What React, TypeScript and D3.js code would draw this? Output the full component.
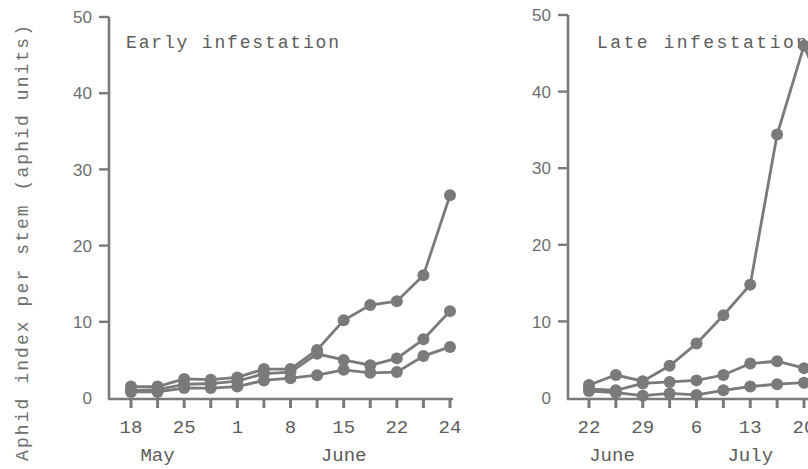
import React from "react";
import * as d3 from "d3";

// Sampling dates, in days from the first sample of each experiment
const earlyDays = [0, 3.5, 7, 10.5, 14, 17.5, 21, 24.5, 28, 31.5, 35, 38.5, 42];
const lateDays = [0, 3.5, 7, 10.5, 14, 17.5, 21, 24.5, 28, 31.5];

// Aphid index per stem, three treatments per infestation
const earlyHigh = [1.5, 1.5, 2.5, 2.4, 2.7, 3.8, 3.8, 6.3, 10.2, 12.2, 12.7, 16.1, 26.6];
const earlyMid = [1.0, 1.1, 1.8, 1.9, 2.2, 3.2, 3.4, 5.8, 5.0, 4.3, 5.2, 7.7, 11.4];
const earlyLow = [0.8, 0.8, 1.3, 1.3, 1.5, 2.3, 2.6, 3.0, 3.7, 3.3, 3.4, 5.5, 6.7];

const lateHigh = [1.7, 3.0, 2.2, 4.2, 7.1, 10.8, 14.8, 34.4, 46.0, 37.5];
const lateMid = [1.2, 1.0, 1.9, 2.1, 2.3, 3.0, 4.5, 4.8, 3.9, 3.6];
const lateLow = [0.9, 0.7, 0.3, 0.6, 0.4, 1.0, 1.5, 1.8, 2.0, 2.1];

// Axis labels
const yTicks = [0, 10, 20, 30, 40, 50];
const earlyDateTicks = [0, 7, 14, 21, 28, 35, 42];
const earlyDateLabels = ["18", "25", "1", "8", "15", "22", "24"];
const lateDateTicks = [0, 7, 14, 21, 28];
const lateDateLabels = ["22", "29", "6", "13", "20"];
const earlyMonths = [{ day: 3.5, name: "May" }, { day: 28, name: "June" }];
const lateMonths = [{ day: 3, name: "June" }, { day: 21, name: "July" }];

const INK = "#7a7a7a";
const TEXT = "#5c5c5c";
const LIGHT = "#6e6e6e";
const MONO = "'Liberation Mono', 'DejaVu Sans Mono', monospace";
const SANS = "'Liberation Sans', Arial, sans-serif";

type PanelProps = {
  title: string;
  days: number[];
  series: number[][];
  dayDomain: [number, number];
  xRange: [number, number];
  axisX: number;
  axisEnd: number;
  yTop: number;
  minorTicks: number[];
  dateTicks: number[];
  dateLabels: string[];
  months: { day: number; name: string }[];
  titleX: number;
  titleLen: number;
};

function Panel(p: PanelProps) {
  const x = d3.scaleLinear().domain(p.dayDomain).range(p.xRange);
  const y = d3.scaleLinear().domain([0, 50]).range([398, p.yTop]);
  const line = d3
    .line<number>()
    .x((_, i) => x(p.days[i]))
    .y((v) => y(v));
  const base = y(0) + 1;
  return (
    <g>
      {/* axes */}
      <line x1={p.axisX} x2={p.axisX} y1={y(50)} y2={base} stroke={INK} strokeWidth={2.6} />
      <line x1={p.axisX - 1} x2={p.axisEnd} y1={base} y2={base} stroke={INK} strokeWidth={2.6} />
      {yTicks.map((t) => (
        <g key={t}>
          {t > 0 && (
            <line x1={p.axisX - 10} x2={p.axisX} y1={y(t)} y2={y(t)} stroke={INK} strokeWidth={2.4} />
          )}
          <text
            x={p.axisX - 17}
            y={y(t)}
            dy="0.36em"
            textAnchor="end"
            fontFamily={SANS}
            fontSize={17}
            fill={LIGHT}
          >
            {t}
          </text>
        </g>
      ))}
      {p.minorTicks.map((d) => (
        <line key={d} x1={x(d)} x2={x(d)} y1={base} y2={base + 9} stroke={INK} strokeWidth={3} />
      ))}
      {p.dateTicks.map((d, i) => (
        <text
          key={d}
          x={x(d)}
          y={433}
          textAnchor="middle"
          fontFamily={MONO}
          fontSize={19}
          fill={TEXT}
        >
          {p.dateLabels[i]}
        </text>
      ))}
      {p.months.map((m) => (
        <text
          key={m.name}
          x={x(m.day)}
          y={461}
          textAnchor="middle"
          fontFamily={MONO}
          fontSize={19}
          fill={TEXT}
        >
          {m.name}
        </text>
      ))}
      <text
        x={p.titleX}
        y={48}
        fontFamily={MONO}
        fontSize={18}
        fill={TEXT}
        textLength={p.titleLen}
        lengthAdjust="spacing"
      >
        {p.title}
      </text>
      {/* series */}
      {p.series.map((s, si) => (
        <g key={si}>
          <path d={line(s) ?? ""} fill="none" stroke={INK} strokeWidth={2.8} />
          {s.map((v, i) => (
            <circle key={i} cx={x(p.days[i])} cy={y(v)} r={6} fill={INK} />
          ))}
        </g>
      ))}
    </g>
  );
}

export default function App() {
  return (
    <svg
      width={808}
      height={469}
      style={{ position: "absolute", left: 0, top: 0, background: "#fff" }}
    >
      <rect width={808} height={469} fill="#fff" />
      <text
        transform="translate(22,243) rotate(-90)"
        textAnchor="middle"
        dy="0.35em"
        fontFamily={MONO}
        fontSize={18}
        fill={LIGHT}
        textLength={436}
        lengthAdjust="spacing"
      >
        Aphid index per stem (aphid units)
      </text>
      <Panel
        title="Early infestation"
        days={earlyDays}
        series={[earlyHigh, earlyMid, earlyLow]}
        dayDomain={[0, 42]}
        xRange={[131, 450]}
        axisX={109}
        axisEnd={453}
        yTop={17}
        minorTicks={earlyDays}
        dateTicks={earlyDateTicks}
        dateLabels={earlyDateLabels}
        months={earlyMonths}
        titleX={126}
        titleLen={213}
      />
      <Panel
        title="Late infestation"
        days={lateDays}
        series={[lateHigh, lateMid, lateLow]}
        dayDomain={[0, 28]}
        xRange={[589, 804]}
        axisX={568}
        axisEnd={830}
        yTop={15}
        minorTicks={lateDays}
        dateTicks={lateDateTicks}
        dateLabels={lateDateLabels}
        months={lateMonths}
        titleX={597}
        titleLen={210}
      />
    </svg>
  );
}
